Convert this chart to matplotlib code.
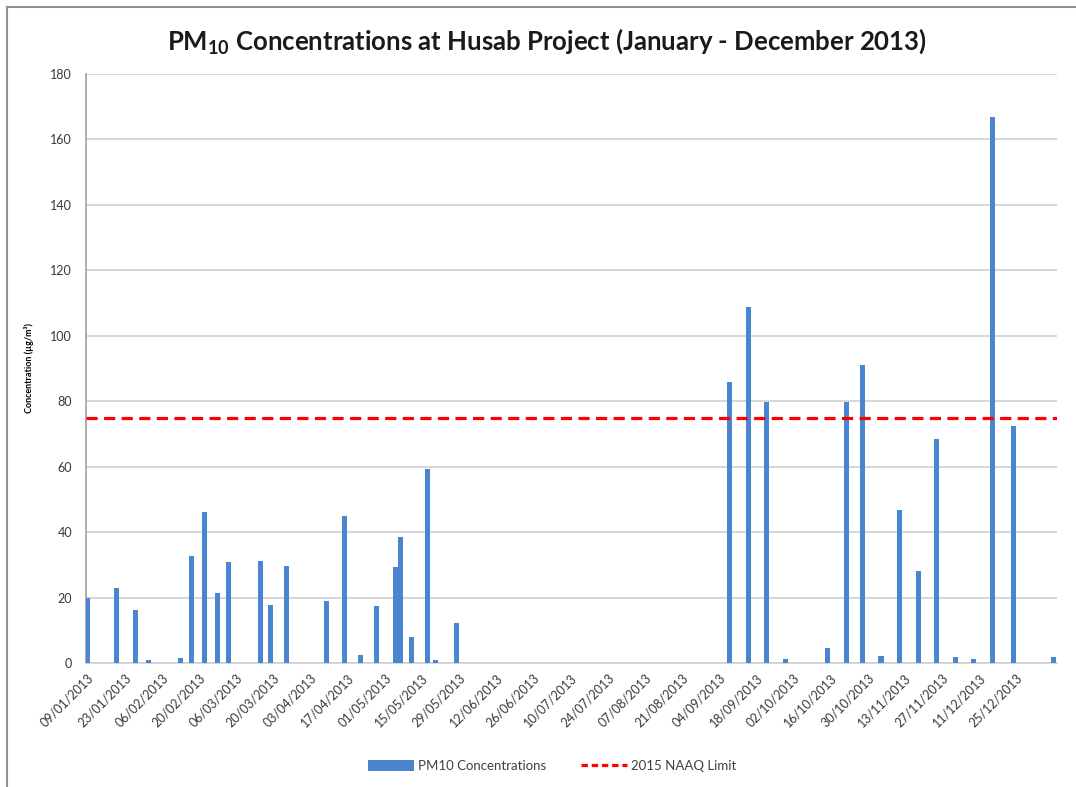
import numpy as np
import pandas as pd
import matplotlib
matplotlib.use("Agg")
import matplotlib.pyplot as plt
import matplotlib.dates as mdates
from matplotlib.lines import Line2D
from matplotlib.patches import Patch

plt.rcParams['font.family'] = ['Lato', 'DejaVu Sans']

# --- DATA ---
sample_dates = [
    "2013-01-09", "2013-01-20", "2013-01-27", "2013-02-01", "2013-02-13",
    "2013-02-17", "2013-02-22", "2013-02-27", "2013-03-03", "2013-03-15",
    "2013-03-19", "2013-03-25", "2013-04-09", "2013-04-16", "2013-04-22",
    "2013-04-28", "2013-05-05", "2013-05-07", "2013-05-11", "2013-05-17",
    "2013-05-20", "2013-05-28", "2013-09-08", "2013-09-15", "2013-09-22",
    "2013-09-29", "2013-10-15", "2013-10-22", "2013-10-28", "2013-11-04",
    "2013-11-11", "2013-11-18", "2013-11-25", "2013-12-02", "2013-12-09",
    "2013-12-16", "2013-12-24", "2014-01-08",
]
pm10 = [
    20.0, 22.9, 16.3, 0.8, 1.5,
    32.8, 46.0, 21.4, 31.0, 31.3,
    17.6, 29.5, 18.8, 45.0, 2.4,
    17.5, 29.3, 38.6, 8.0, 59.2,
    1.0, 12.3, 85.8, 108.7, 79.7,
    1.1, 4.6, 79.7, 91.1, 2.0,
    46.8, 28.0, 68.4, 1.9, 1.1,
    166.8, 72.3, 1.9,
]
naaq_limit = 75
tick_start = "2013-01-09"
tick_end = "2013-12-25"

dates = pd.to_datetime(sample_dates)
ticks = pd.date_range(tick_start, tick_end, freq="14D")

fig = plt.figure(figsize=(10.76, 7.87), dpi=100)
ax = fig.add_axes([0.0799, 0.1576, 0.9024, 0.7484])

bar_color = '#4a86d0'
ax.bar(dates, pm10, width=1.9, color=bar_color, zorder=3)
ax.axhline(naaq_limit, color='#ff0000', linestyle=(0, (3.5, 2)), linewidth=2.3, zorder=4)

x0 = mdates.date2num(pd.Timestamp(tick_start))
ax.set_xlim(x0 - 0.6, x0 + 365.3)
ax.set_ylim(0, 180)
ax.set_yticks(np.arange(0, 181, 20))
ax.set_xticks(ticks)
ax.xaxis.set_major_formatter(mdates.DateFormatter("%d/%m/%Y"))
plt.setp(ax.get_xticklabels(), rotation=45, ha='right', rotation_mode='anchor')
ax.tick_params(axis='both', length=0, labelsize=9, colors='#383838')
ax.tick_params(axis='x', pad=6)
ax.tick_params(axis='y', pad=10)

ax.grid(axis='y', color='#d0d0d0', linewidth=1.2, zorder=0)
for s in ['top', 'right']:
    ax.spines[s].set_visible(False)
ax.spines['left'].set_color('#a0a0a0')
ax.spines['bottom'].set_color('#d0d0d0')
ax.spines['left'].set_linewidth(1.2)
ax.spines['bottom'].set_linewidth(1.2)

ax.set_ylabel("Concentration (µg/m³)", fontsize=6.5, fontweight='bold', labelpad=12)

fig.text(0.508, 0.948, "PM$_{\\mathregular{10}}$ Concentrations at Husab Project (January - December 2013)",
         ha='center', va='center', fontsize=18.5, fontweight='bold', color='#1a1a1a')

handles = [Patch(facecolor=bar_color, label='PM10 Concentrations'),
           Line2D([0], [0], color='#ff0000', linestyle=(0, (2, 1.2)), linewidth=2.3, label='2015 NAAQ Limit')]
fig.legend(handles=handles, loc='center', bbox_to_anchor=(0.513, 0.027), ncol=2, frameon=False,
           fontsize=9.5, labelcolor='#404040', handlelength=3.5, handleheight=0.9,
           columnspacing=2.6, handletextpad=0.3)

# frame line at top and left of the picture
fig.add_artist(Line2D([7 / 1076, 1.0], [1 - 7 / 787, 1 - 7 / 787], color='#909090', linewidth=1.5,
                      transform=fig.transFigure))
fig.add_artist(Line2D([7 / 1076, 7 / 1076], [0.0, 1 - 7 / 787], color='#909090', linewidth=1.5,
                      transform=fig.transFigure))

fig.savefig("out.png", dpi=100)
